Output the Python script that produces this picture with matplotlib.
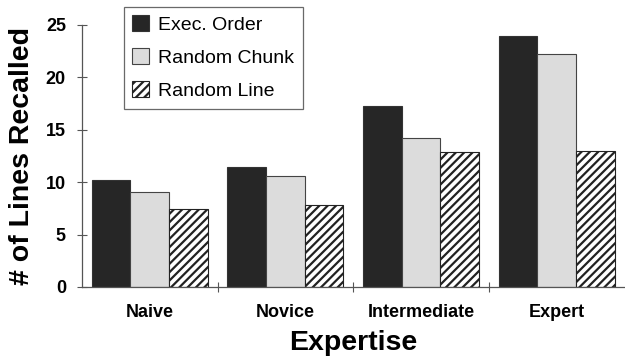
import matplotlib.pyplot as plt
import numpy as np

plt.rcParams['font.family'] = ['Liberation Sans', 'DejaVu Sans']
plt.rcParams['hatch.linewidth'] = 1.6

categories = ["Naive", "Novice", "Intermediate", "Expert"]
exec_order = [10.2, 11.4, 17.3, 23.9]
random_chunk = [9.1, 10.6, 14.2, 22.2]
random_line = [7.4, 7.8, 12.9, 13.0]

fig = plt.figure(figsize=(6.25, 3.61), dpi=100)
ax = fig.add_axes([0.131, 0.205, 0.868, 0.726])

x = np.arange(len(categories))
w = 0.285
ax.bar(x - w, exec_order, w, color='#262626', edgecolor='#333333', linewidth=0.8,
       label='Exec. Order')
ax.bar(x, random_chunk, w, color='#dcdcdc', edgecolor='#444444', linewidth=0.8,
       label='Random Chunk')
ax.bar(x + w, random_line, w, color='white', edgecolor='#222222', hatch='////',
       linewidth=0.8, label='Random Line')

ax.set_xlim(-0.5, 3.5)
ax.set_ylim(0, 25)
ax.set_yticks([0, 5, 10, 15, 20, 25])
ax.set_xticks([0.5, 1.5, 2.5], minor=False)
ax.set_xticklabels([])
ax.set_xticks(x, minor=True)
ax.set_xticklabels(categories, minor=True, fontsize=13, fontweight='bold')
ax.tick_params(axis='x', which='minor', length=0, pad=12)
ax.tick_params(axis='x', which='major', direction='inout', length=7, color='#555555')
ax.tick_params(axis='y', direction='inout', length=7, color='#555555', labelsize=13, pad=8)
for t in ax.get_yticklabels():
    t.set_fontweight('bold')

for s in ['top', 'right']:
    ax.spines[s].set_visible(False)
for s in ['left', 'bottom']:
    ax.spines[s].set_color('#555555')
    ax.spines[s].set_linewidth(0.9)

ax.set_ylabel("# of Lines Recalled", fontsize=20.5, fontweight='bold', labelpad=8)
ax.set_xlabel("Expertise", fontsize=20.5, fontweight='bold', labelpad=7)

leg = ax.legend(loc='upper left', bbox_to_anchor=(0.07, 1.085), fontsize=14,
                frameon=True, fancybox=False, handlelength=0.85, handleheight=0.85,
                handletextpad=0.45, labelspacing=0.75, borderpad=0.45,
                borderaxespad=0.2)
leg.get_frame().set_edgecolor('#444444')
leg.get_frame().set_linewidth(0.9)

plt.savefig("out.png", dpi=100)
